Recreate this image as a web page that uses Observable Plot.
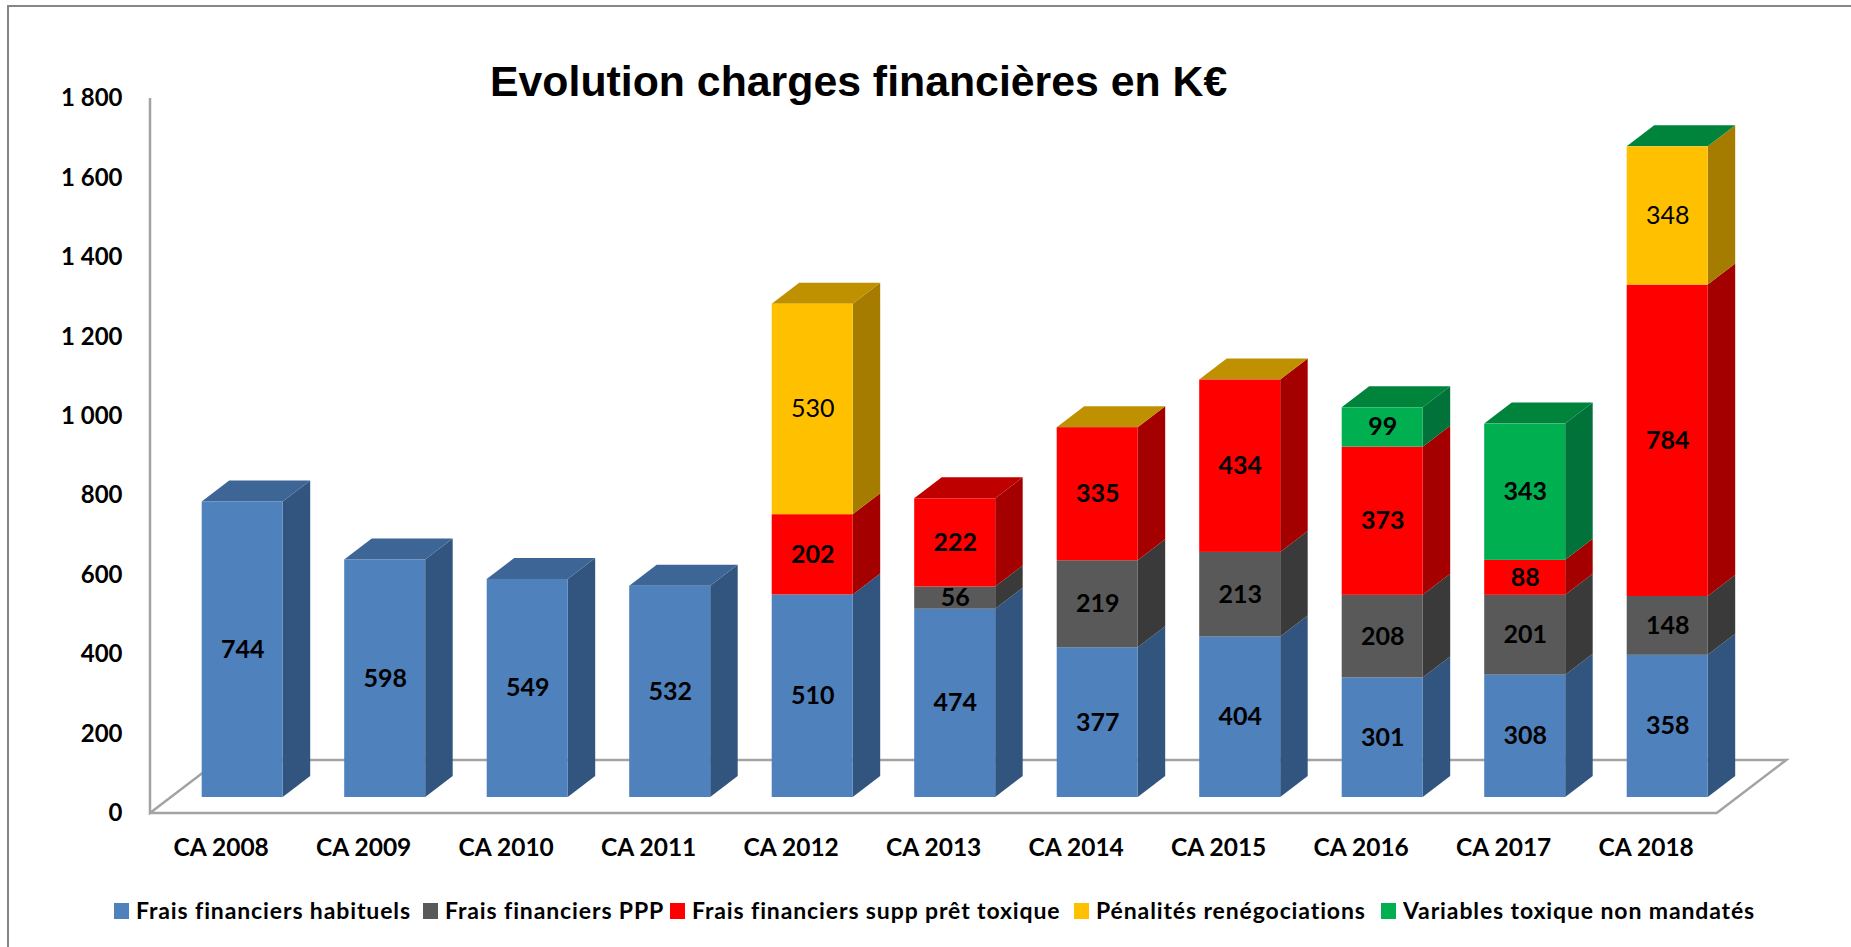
<!DOCTYPE html>
<html lang="fr">
<head>
<meta charset="utf-8">
<script src="https://cdn.jsdelivr.net/npm/d3@7"></script>
<script src="https://cdn.jsdelivr.net/npm/@observablehq/plot@0.6"></script>
<style>
  html, body { margin: 0; padding: 0; background: #fff; overflow: hidden; }
  #page { position: relative; width: 1851px; height: 947px; overflow: hidden; }
  #page svg { display: block; position: absolute; left: 0; top: 0; }
  #edge { position: absolute; left: 7px; top: 5px; right: 0; bottom: 0; border-top: 2.5px solid #868686; border-left: 2.5px solid #868686; }
  #title { position: absolute; left: 490px; top: 57px; margin: 0; font: bold 42.8px "Liberation Sans", Arial, sans-serif; color: #000; white-space: nowrap; }
  .key { position: absolute; top: 903px; height: 16px; }
  .swatch { position: absolute; top: 0; left: 0; width: 15px; height: 16px; }
  .label { position: absolute; left: 22px; top: -9px; font: bold 23px/32px Lato, sans-serif; letter-spacing: 0.88px; color: #000; white-space: nowrap; }
</style>
</head>
<body>
<div id="page"><div id="edge"></div><h1 id="title">Evolution charges financières en K€</h1></div>
<script>
const years = ["CA 2008","CA 2009","CA 2010","CA 2011","CA 2012","CA 2013","CA 2014","CA 2015","CA 2016","CA 2017","CA 2018"];
const seriesNames = ["Frais financiers habituels","Frais financiers PPP","Frais financiers supp prêt toxique","Pénalités renégociations","Variables toxique non mandatés"];
const habituels = [744,598,549,532,510,474,377,404,301,308,358];
const ppp       = [null,null,null,null,null,56,219,213,208,201,148];
const toxique   = [null,null,null,null,202,222,335,434,373,88,784];
const penalites = [null,null,null,null,530,null,0,0,null,null,348];
const variables = [null,null,null,null,null,null,null,null,99,343,0];
const yTicks = [0,200,400,600,800,1000,1200,1400,1600,1800];

const frontColors = ["#4F81BD","#595959","#FF0000","#FFC000","#00B050"];
const sideColors  = ["#32557F","#3A3A3A","#A50000","#A67C00","#00723A"];
const capColors   = ["#3D6696","#474747","#BF0000","#BF9000","#00843C"];

const seriesValues = [habituels, ppp, toxique, penalites, variables];
const rows = [];
const caps = [];
years.forEach((year, i) => {
  let base = 0, last = 0;
  seriesValues.forEach((values, s) => {
    const v = values[i];
    if (v == null) return;
    rows.push({year, series: seriesNames[s], s, value: v, y0: base, y1: base + v});
    base += v;
    last = s;
  });
  caps.push({year, s: last, top: base});
});

// Perspective of the 3-D box, in pixels.
const lift = 16, depthX = 27.5, depthY = 21;
const floorDX = 69.5, floorDY = 53, floorEnd = 1716.7;
const ns = "http://www.w3.org/2000/svg";
function poly(parent, pts, fill, stroke) {
  const p = document.createElementNS(ns, fill ? "polygon" : "polyline");
  p.setAttribute("points", pts.map(q => q.join(",")).join(" "));
  p.setAttribute("fill", fill || "none");
  if (stroke) { p.setAttribute("stroke", stroke); p.setAttribute("stroke-width", 2.5); }
  parent.appendChild(p);
}
function floorMark(index, {y}, values, {marginLeft}) {
  const g = document.createElementNS(ns, "g");
  const x0 = marginLeft, y0 = y(0);
  poly(g, [[x0, y(1800)], [x0, y0], [x0 + floorDX, y0 - floorDY], [floorEnd + floorDX, y0 - floorDY], [floorEnd, y0], [x0, y0]], null, "#A3A3A3");
  return g;
}
function boxMark(index, {x, y}) {
  const g = document.createElementNS(ns, "g");
  const bw = x.bandwidth();
  for (const r of rows) {
    const xr = x(r.year) + bw;
    const a = y(r.y1) - lift, b = y(r.y0) - lift;
    if (r.value > 0) poly(g, [[xr, a], [xr + depthX, a - depthY], [xr + depthX, b - depthY], [xr, b]], sideColors[r.s]);
  }
  for (const c of caps) {
    const xl = x(c.year), xr = xl + bw, t = y(c.top) - lift;
    poly(g, [[xl, t], [xl + depthX, t - depthY], [xr + depthX, t - depthY], [xr, t]], capColors[c.s]);
  }
  return g;
}

const font = "Lato, sans-serif";
const visible = rows.filter(r => r.value > 0);
const chart = Plot.plot({
  width: 1851,
  height: 947,
  marginLeft: 150,
  marginRight: 143.3,
  marginTop: 98,
  marginBottom: 134,
  style: {background: "transparent", color: "#000", fontFamily: font},
  x: {type: "band", domain: years, range: [201.7, 1707.7], paddingInner: 0.4316, paddingOuter: 0, round: false, label: null},
  y: {domain: [0, 1800], range: [813, 98], label: null},
  color: {domain: seriesNames, range: frontColors},
  marks: [
    floorMark,
    boxMark,
    Plot.barY(visible, {x: "year", y1: "y0", y2: "y1", fill: "series", dy: -lift}),
    Plot.text(visible.filter(r => r.s !== 3), {
      x: "year", y: r => (r.y0 + r.y1) / 2, text: "value", dy: -lift,
      fill: "#000", fontSize: 25, fontFamily: font, fontWeight: 700
    }),
    Plot.text(visible.filter(r => r.s === 3), {
      x: "year", y: r => (r.y0 + r.y1) / 2, text: "value", dy: -lift,
      fill: "#000", fontSize: 25, fontFamily: font, fontWeight: 400
    }),
    Plot.axisX({anchor: "bottom", tickSize: 0, tickPadding: 25, dx: -21.5, fontSize: 24.5, fontWeight: 700, fontFamily: font, label: null}),
    Plot.axisY({anchor: "left", ticks: yTicks, tickSize: 0, tickPadding: 28, tickFormat: d => d3.format(",")(d).replace(/,/g, " "), fontSize: 24, fontWeight: 700, fontFamily: font, label: null})
  ]
});
const page = document.getElementById("page");
page.insertBefore(chart, page.firstChild);

// Legend below the plot area.
const legendLefts = [114, 423, 670, 1074, 1381];
seriesNames.forEach((name, i) => {
  const k = document.createElement("div");
  k.className = "key";
  k.style.left = legendLefts[i] + "px";
  const sw = document.createElement("div");
  sw.className = "swatch";
  sw.style.background = frontColors[i];
  const t = document.createElement("div");
  t.className = "label";
  t.textContent = name;
  k.append(sw, t);
  page.appendChild(k);
});
</script>
</body>
</html>
